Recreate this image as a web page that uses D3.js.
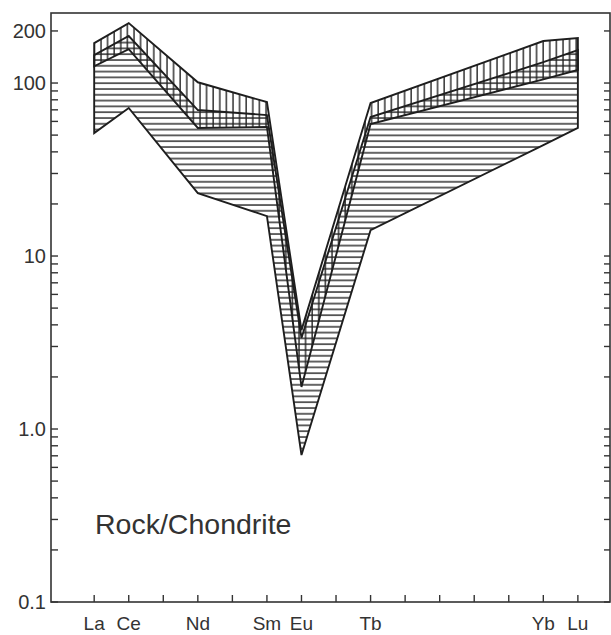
<!DOCTYPE html>
<html>
<head>
<meta charset="utf-8">
<script src="https://cdn.jsdelivr.net/npm/d3@7"></script>
<style>
  body { margin: 0; background: #fff; }
  text { font-family: "Liberation Sans", Arial, sans-serif; fill: #333; }
</style>
</head>
<body>
<div id="chart"></div>
<script>
// REE elements along the x axis (all ticks), only some are labelled
const elements = ["La", "Ce", "Pr", "Nd", "Pm", "Sm", "Eu", "Gd", "Tb", "Dy", "Ho", "Er", "Tm", "Yb", "Lu"];
const labelled = ["La", "Ce", "Nd", "Sm", "Eu", "Tb", "Yb", "Lu"];

// field A (vertical hatching) and field B (horizontal hatching), values at labelled elements
const fieldAUpper = [170, 222, 101, 77.6, 3.73, 76.6, 175, 182];
const fieldALower = [125, 157, 55, 55.7, 1.75, 58, 105, 119];
const fieldBUpper = [145, 187, 69.8, 65.3, 3.36, 63.6, 132, 155];
const fieldBLower = [51.4, 71.7, 23.1, 17.0, 0.707, 14.1, 43.8, 55];

// y axis
const yLabelValues = [0.1, 1, 10, 100, 200];
const yLabelText = ["0.1", "1.0", "10", "100", "200"];
const yMinorTicks = [];
[0.1, 1, 10].forEach(dec => { for (let k = 2; k <= 9; k++) yMinorTicks.push(+(dec * k).toPrecision(3)); });

const W = 611, H = 635;
const frame = { left: 51, right: 610, top: 13, bottom: 602 };

const svg = d3.select("#chart").append("svg")
    .attr("width", W).attr("height", H);

const x = d3.scaleLinear().domain([-1.25, 14.93]).range([frame.left, frame.right]);
const y = d3.scaleLog().domain([0.1, 254]).range([frame.bottom, frame.top]);

// hatch patterns
const defs = svg.append("defs");
defs.append("pattern")
    .attr("id", "hatchH").attr("patternUnits", "userSpaceOnUse")
    .attr("width", 10).attr("height", 5.8)
    .append("line")
    .attr("x1", 0).attr("x2", 10).attr("y1", 2).attr("y2", 2)
    .attr("stroke", "#222").attr("stroke-width", 1.4);
defs.append("pattern")
    .attr("id", "hatchV").attr("patternUnits", "userSpaceOnUse")
    .attr("width", 6.6).attr("height", 10)
    .append("line")
    .attr("x1", 2).attr("x2", 2).attr("y1", 0).attr("y2", 10)
    .attr("stroke", "#222").attr("stroke-width", 1.4);

function fieldPoints(upper, lower) {
    const up = labelled.map((el, i) => [elements.indexOf(el), upper[i]]);
    const lo = labelled.map((el, i) => [elements.indexOf(el), lower[i]]).reverse();
    return up.concat(lo);
}
const poly = d3.line().x(d => x(d[0])).y(d => y(d[1])).curve(d3.curveLinearClosed);

const fields = [
    { pts: fieldPoints(fieldBUpper, fieldBLower), fill: "url(#hatchH)" },
    { pts: fieldPoints(fieldAUpper, fieldALower), fill: "url(#hatchV)" }
];

svg.selectAll(".field")
    .data(fields)
    .enter().append("path")
    .attr("class", "field")
    .attr("d", d => poly(d.pts))
    .attr("fill", d => d.fill)
    .attr("stroke", "none");

svg.selectAll(".outline")
    .data(fields)
    .enter().append("path")
    .attr("class", "outline")
    .attr("d", d => poly(d.pts))
    .attr("fill", "none")
    .attr("stroke", "#1e1e1e")
    .attr("stroke-width", 1.9)
    .attr("stroke-linejoin", "miter");

// frame
svg.append("rect")
    .attr("x", frame.left).attr("y", frame.top)
    .attr("width", frame.right - frame.left).attr("height", frame.bottom - frame.top)
    .attr("fill", "none").attr("stroke", "#333").attr("stroke-width", 1.6);

// y ticks, left (inward) and right (inward)
const allY = yMinorTicks.concat(yLabelValues);
const tickStroke = "#333";
svg.append("g").selectAll("line")
    .data(allY).enter().append("line")
    .attr("x1", frame.left).attr("x2", frame.left + 7)
    .attr("y1", d => y(d)).attr("y2", d => y(d))
    .attr("stroke", tickStroke).attr("stroke-width", 1.4);
svg.append("g").selectAll("line")
    .data(allY).enter().append("line")
    .attr("x1", frame.right).attr("x2", frame.right - 6)
    .attr("y1", d => y(d)).attr("y2", d => y(d))
    .attr("stroke", tickStroke).attr("stroke-width", 1.4);

svg.append("g").selectAll("text")
    .data(yLabelValues).enter().append("text")
    .attr("x", frame.left - 5)
    .attr("y", d => y(d))
    .attr("dy", "0.36em")
    .attr("text-anchor", "end")
    .style("font-size", "20px")
    .text((d, i) => yLabelText[i]);

// x ticks (inward)
svg.append("g").selectAll("line")
    .data(elements).enter().append("line")
    .attr("x1", (d, i) => x(i)).attr("x2", (d, i) => x(i))
    .attr("y1", frame.bottom).attr("y2", frame.bottom - 7)
    .attr("stroke", tickStroke).attr("stroke-width", 1.4);

svg.append("g").selectAll("text")
    .data(labelled).enter().append("text")
    .attr("x", d => x(elements.indexOf(d)))
    .attr("y", frame.bottom + 28)
    .attr("text-anchor", "middle")
    .style("font-size", "19px")
    .text(d => d);

svg.append("text")
    .attr("x", 95)
    .attr("y", 534)
    .style("font-size", "28.5px")
    .text("Rock/Chondrite");
</script>
</body>
</html>
